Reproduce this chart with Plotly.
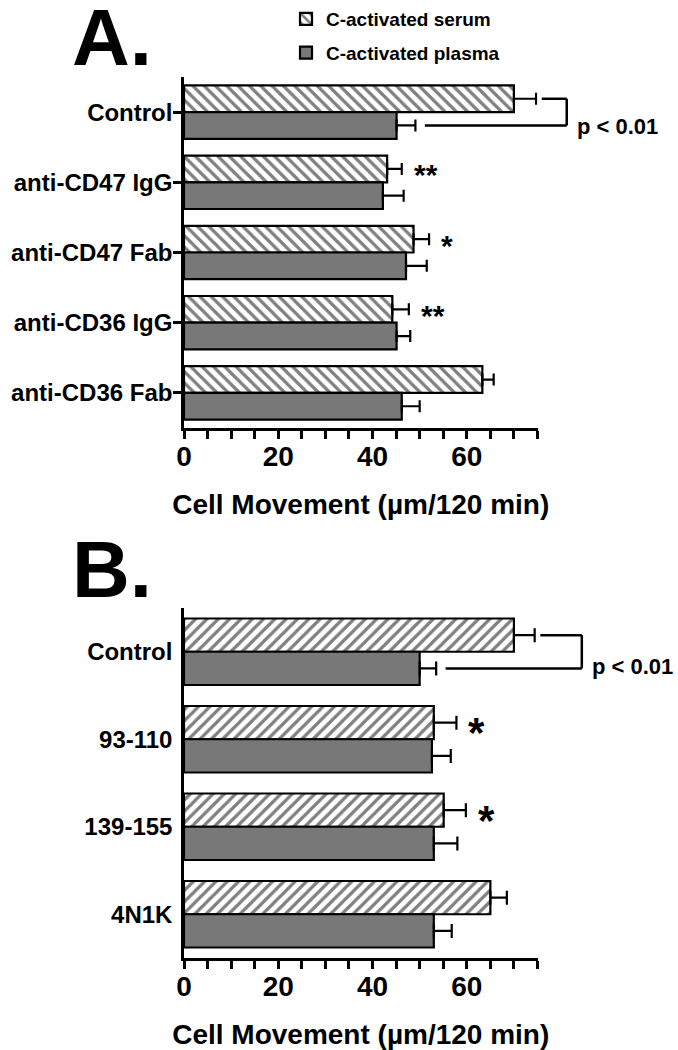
import plotly.graph_objects as go

W, H = 678, 1050
FONT = "Liberation Sans, Arial"

# Panel A
cats_a = ["Control", "anti-CD47 IgG", "anti-CD47 Fab", "anti-CD36 IgG", "anti-CD36 Fab"]
serum_a = [70.0, 43.1, 48.7, 44.2, 63.3]
serum_a_err = [4.7, 3.1, 3.3, 3.5, 2.4]
plasma_a = [45.1, 42.2, 47.1, 45.1, 46.2]
plasma_a_err = [4.0, 4.4, 4.4, 2.9, 3.8]
stars_a = ["", "**", "*", "**", ""]

# Panel B
cats_b = ["Control", "93-110", "139-155", "4N1K"]
serum_b = [70.0, 53.0, 55.1, 65.0]
serum_b_err = [4.4, 4.8, 4.7, 3.5]
plasma_b = [50.0, 52.6, 53.0, 53.0]
plasma_b_err = [3.5, 4.0, 5.0, 3.8]
stars_b = ["", "*", "*", ""]

x_ticks = [0, 20, 40, 60]
X_MAX = 75
BARGAP = 0.24
GREY = "#787878"


def px_x(p):
    return p / W


def px_y(p):
    return 1 - p / H


fig = go.Figure()


def add_panel(cats, serum, serum_err, plasma, plasma_err, shape, xa, ya, legend, cap):
    fig.add_trace(go.Bar(
        y=cats, x=serum, orientation="h", name="C-activated serum",
        xaxis=xa, yaxis=ya, showlegend=legend, legendgroup="s",
        marker=dict(color="white", line=dict(color="black", width=2.2),
                    pattern=dict(shape=shape, fgcolor="black", bgcolor="white",
                                 size=8, solidity=0.4)),
        error_x=dict(type="data", array=serum_err, arrayminus=[0] * len(cats),
                     symmetric=False, color="black", thickness=2.2, width=cap),
    ))
    fig.add_trace(go.Bar(
        y=cats, x=plasma, orientation="h", name="C-activated plasma",
        xaxis=xa, yaxis=ya, showlegend=legend, legendgroup="p",
        marker=dict(color=GREY, line=dict(color="black", width=2.2)),
        error_x=dict(type="data", array=plasma_err, arrayminus=[0] * len(cats),
                     symmetric=False, color="black", thickness=2.2, width=cap),
    ))


add_panel(cats_a, serum_a, serum_a_err, plasma_a, plasma_a_err, "\\", "x", "y", True, 6)
add_panel(cats_b, serum_b, serum_b_err, plasma_b, plasma_b_err, "/", "x2", "y2", False, 7)

xdom = [px_x(184), px_x(537.5)]
bold = dict(family=FONT, color="black", weight="bold")
xaxis_common = dict(
    range=[0, X_MAX], domain=xdom, showline=True, linecolor="black", linewidth=2.5,
    ticks="outside", ticklen=8, tickwidth=2.5, tickcolor="black",
    tickvals=x_ticks, showgrid=False, zeroline=False, automargin=False,
    ticklabelstandoff=-6,
    minor=dict(dtick=5, ticks="outside", ticklen=8, tickwidth=2.5, tickcolor="black"),
    tickfont=dict(size=28, **bold),
    title=dict(text="Cell Movement (µm/120 min)", font=dict(size=28, **bold), standoff=24),
)
yaxis_common = dict(autorange="reversed", showline=True, linecolor="black",
                    linewidth=2.5, showgrid=False, automargin=False,
                    tickfont=dict(size=24, **bold))
fig.update_layout(
    xaxis=dict(anchor="y", **xaxis_common),
    xaxis2=dict(anchor="y2", **xaxis_common),
    yaxis=dict(domain=[px_y(428), px_y(77)], anchor="x", ticks="outside",
               ticklen=8, tickwidth=2.5, tickcolor="black", ticklabelstandoff=-4,
               **yaxis_common),
    yaxis2=dict(domain=[px_y(958), px_y(608)], anchor="x2", ticks="",
                ticklabelstandoff=4, **yaxis_common),
    barmode="group",
    bargap=BARGAP,
    width=W, height=H,
    margin=dict(l=0, r=0, t=0, b=0),
    plot_bgcolor="white", paper_bgcolor="white",
    legend=dict(x=px_x(286), y=1, xanchor="left", yanchor="top",
                font=dict(size=19, **bold),
                tracegroupgap=6, bgcolor="rgba(0,0,0,0)"),
    showlegend=True,
)

half = (1 - BARGAP) / 4  # offset of each bar centre from the category centre


def add_marks(cats, serum, serum_err, plasma, plasma_err, stars, xa, ya, bx, star_size, star_dy):
    n = len(cats)
    for i, s in enumerate(stars):
        if s:
            yc = 1 - (i + 0.5 - half) / n
            fig.add_annotation(x=(serum[i] + serum_err[i]) / X_MAX, y=yc,
                               xref=xa + " domain", yref=ya + " domain",
                               text=s, showarrow=False, xanchor="left", yanchor="middle",
                               xshift=10, yshift=star_dy,
                               font=dict(size=star_size, **bold))
    # p < 0.01 bracket between Control serum and plasma
    yt = 1 - (0 + 0.5 - half) / n
    yb = 1 - (0 + 0.5 + half) / n
    x_top = (serum[0] + serum_err[0] + 1.2) / X_MAX
    x_bot = (plasma[0] + plasma_err[0] + 2) / X_MAX
    xr = bx / X_MAX
    ref = dict(xref=xa + " domain", yref=ya + " domain")
    line = dict(color="black", width=2.5)
    fig.add_shape(type="line", x0=x_top, x1=xr, y0=yt, y1=yt, line=line, **ref)
    fig.add_shape(type="line", x0=xr, x1=xr, y0=yt, y1=yb, line=line, **ref)
    fig.add_shape(type="line", x0=x_bot, x1=xr, y0=yb, y1=yb, line=line, **ref)
    fig.add_annotation(x=xr, y=(yt + yb) / 2, text="p < 0.01", showarrow=False,
                       xanchor="left", xshift=8, **ref,
                       font=dict(size=22, **bold))


add_marks(cats_a, serum_a, serum_a_err, plasma_a, plasma_a_err, stars_a, "x", "y", 81.2, 30, -6)
add_marks(cats_b, serum_b, serum_b_err, plasma_b, plasma_b_err, stars_b, "x2", "y2", 84.4, 42, -10)

for label, ytop in (("A.", -8), ("B.", 524)):
    fig.add_annotation(x=px_x(71), y=px_y(ytop), xref="paper", yref="paper",
                       text=label, showarrow=False, xanchor="left", yanchor="top",
                       borderpad=0, font=dict(size=80, **bold))

fig.write_html("out.html", config={"displayModeBar": False},
               post_script="document.body.style.margin='0';")
